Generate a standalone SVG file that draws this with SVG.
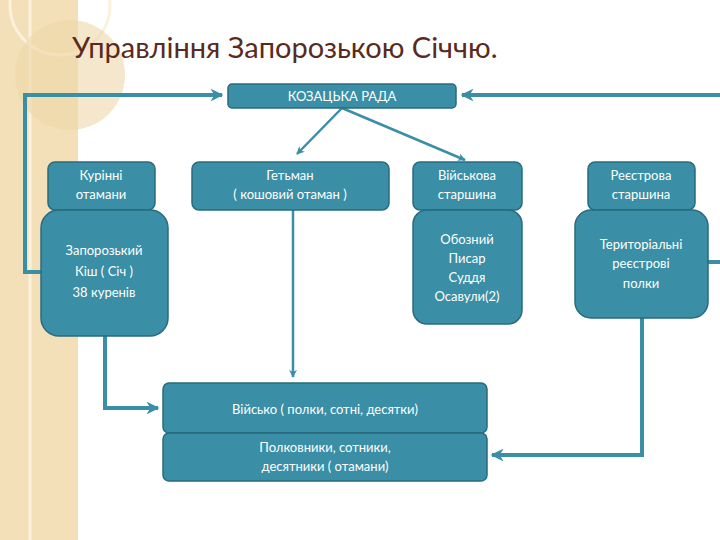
<svg xmlns="http://www.w3.org/2000/svg" width="720" height="540" viewBox="0 0 720 540">
<defs>
<marker id="ah" viewBox="0 0 10 10" refX="9" refY="5" markerWidth="3.2" markerHeight="3.2" orient="auto"><path d="M0,0 L10,5 L0,10 L3,5 Z" fill="#3a8ea6"/></marker>
<style>
.b{fill:#3a8ea6;stroke:#2a6b7e;stroke-width:1.5}
.t{font-family:Lato,"Open Sans",sans-serif;font-size:13px;fill:#fff;text-anchor:middle}
.c{fill:none;stroke:#3a8ea6;stroke-width:4}
.c2{fill:none;stroke:#3a8ea6;stroke-width:2.5}
</style>
</defs>
<rect width="720" height="540" fill="#fff"/>
<rect width="78" height="540" fill="#f3e0b9"/>
<line x1="30" y1="0" x2="30" y2="540" stroke="#fbf1dc" stroke-width="3"/>
<circle cx="60" cy="5" r="50" fill="none" stroke="#fbf1dc" stroke-width="3"/>
<circle cx="70" cy="75" r="55" fill="#efd7a9" opacity="0.6"/>
<text x="72" y="58" font-family="Lato,'Open Sans',sans-serif" font-size="29" fill="#5a2a1e">Управління Запорозькою Січчю.</text>
<g id="connectors">
<polyline class="c" points="41,272 25,272 25,95 222,95" marker-end="url(#ah)"/>
<polyline class="c" points="720,95 462,95" marker-end="url(#ah)"/>
<line class="c" x1="708" y1="262" x2="720" y2="262"/>
<line class="c2" x1="342" y1="108" x2="297" y2="154" marker-end="url(#ah)"/>
<line class="c2" x1="342" y1="108" x2="465" y2="160" marker-end="url(#ah)"/>
<line class="c2" x1="293" y1="209" x2="293" y2="377" marker-end="url(#ah)"/>
<polyline class="c" points="105,336 105,408 158,408" marker-end="url(#ah)"/>
<polyline class="c" points="642,318 642,455 492,455" marker-end="url(#ah)"/>
</g>
<g id="rada"><rect class="b" x="228" y="84" width="228" height="24" rx="4"/><text class="t" x="342" y="101">КОЗАЦЬКА РАДА</text></g>
<g id="kurinni"><rect class="b" x="48" y="162" width="107" height="48" rx="7"/><text class="t" x="101" y="180">Курінні</text><text class="t" x="101" y="199">отамани</text></g>
<g id="kish"><rect class="b" x="41" y="210" width="127" height="126" rx="18"/><text class="t" x="104" y="255">Запорозький</text><text class="t" x="104" y="276">Кіш ( Січ )</text><text class="t" x="104" y="297">38 куренів</text></g>
<g id="hetman"><rect class="b" x="192" y="162" width="197" height="48" rx="7"/><text class="t" x="290" y="180">Гетьман</text><text class="t" x="290" y="199">( кошовий отаман )</text></g>
<g id="viyskova"><rect class="b" x="413" y="162" width="109" height="48" rx="7"/><text class="t" x="467" y="180">Військова</text><text class="t" x="467" y="199">старшина</text></g>
<g id="oboznyi"><rect class="b" x="413" y="210" width="109" height="114" rx="14"/><text class="t" x="467" y="244">Обозний</text><text class="t" x="467" y="263">Писар</text><text class="t" x="467" y="282">Суддя</text><text class="t" x="467" y="301">Осавули(2)</text></g>
<g id="reyestrova"><rect class="b" x="588" y="162" width="107" height="48" rx="7"/><text class="t" x="641" y="180">Реєстрова</text><text class="t" x="641" y="199">старшина</text></g>
<g id="terytor"><rect class="b" x="575" y="210" width="133" height="108" rx="16"/><text class="t" x="641" y="249">Територіальні</text><text class="t" x="641" y="268">реєстрові</text><text class="t" x="641" y="288">полки</text></g>
<g id="viysko"><rect class="b" x="163" y="383" width="324" height="50" rx="6"/><text class="t" x="325" y="414">Військо ( полки, сотні, десятки)</text></g>
<g id="polkovnyky"><rect class="b" x="163" y="433" width="324" height="48" rx="6"/><text class="t" x="325" y="452">Полковники, сотники,</text><text class="t" x="325" y="471">десятники ( отамани)</text></g>
</svg>
